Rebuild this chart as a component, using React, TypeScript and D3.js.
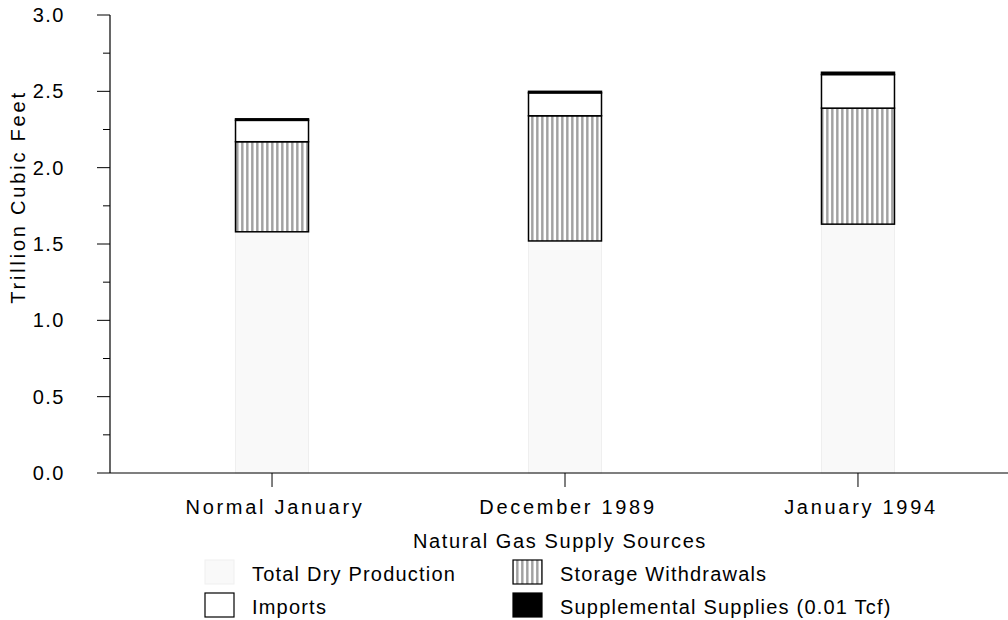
import React from "react";
import * as d3 from "d3";

const categories = ["Normal January", "December 1989", "January 1994"];
const production = [1.58, 1.52, 1.63];
const storage = [0.59, 0.82, 0.76];
const imports = [0.14, 0.15, 0.22];
const supplemental = [0.01, 0.01, 0.015];
const yMajorTicks = [0, 0.5, 1.0, 1.5, 2.0, 2.5, 3.0];
const yMinorTicks = [0.25, 0.75, 1.25, 1.75, 2.25, 2.75];
const seriesNames = ["Total Dry Production", "Storage Withdrawals", "Imports", "Supplemental Supplies (0.01 Tcf)"];

const W = 1008;
const H = 620;
const FONT = "'Liberation Sans', Arial, sans-serif";

export default function App() {
  const y = d3.scaleLinear().domain([0, 3]).range([473, 15]);
  const x = d3.scalePoint<string>().domain(categories).range([110, 1020]).padding(0.553);
  const barW = 73;

  const stack = d3.stack<number>().keys(["p", "s", "i", "u"]).value((i, k) => {
    if (k === "p") return production[i];
    if (k === "s") return storage[i];
    if (k === "i") return imports[i];
    return supplemental[i];
  });
  const series = stack(categories.map((_, i) => i));

  const fills = ["#f9f9f9", "url(#vhatch)", "#ffffff", "#000000"];
  const strokes = ["#efefef", "#000", "#000", "#000"];

  const base: React.CSSProperties = { fontFamily: FONT, fontSize: 20, fill: "#000" };
  const tickStyle = { ...base, letterSpacing: 1.5 };
  const axisStyle = { ...base, letterSpacing: 2.7 };
  const titleStyle = { ...base, letterSpacing: 2.8 };
  const legTitleStyle = { ...base, letterSpacing: 1.6 };
  const legStyle = { ...base, letterSpacing: 1.2 };

  const legendItems = [
    { x: 205, y: 560, idx: 0 },
    { x: 513, y: 560, idx: 1 },
    { x: 205, y: 593, idx: 2 },
    { x: 513, y: 593, idx: 3 },
  ];

  return (
    <svg width={W} height={H} style={{ position: "absolute", left: 0, top: 0, background: "#fff" }}>
      <defs>
        <pattern id="vhatch" patternUnits="userSpaceOnUse" width={5} height={10}>
          <rect width={5} height={10} fill="#fff" />
          <line x1={2} y1={0} x2={2} y2={10} stroke="#555" strokeWidth={1} />
          <line x1={3} y1={0} x2={3} y2={10} stroke="#999" strokeWidth={1} />
        </pattern>
      </defs>

      {series.map((s, si) => (
        <g key={si}>
          {s.map((d, i) => {
            const cx = x(categories[i]) as number;
            const y0 = y(d[0]);
            const y1 = y(d[1]);
            return (
              <rect
                key={i}
                x={cx - barW / 2}
                y={y1}
                width={barW}
                height={Math.max(0, y0 - y1)}
                fill={fills[si]}
                stroke={strokes[si]}
                strokeWidth={si === 0 ? 1 : 1.5}
              />
            );
          })}
        </g>
      ))}

      <line x1={110} y1={y(3)} x2={110} y2={y(0)} stroke="#000" strokeWidth={1.2} />
      {yMajorTicks.map((t) => (
        <g key={"M" + t}>
          <line x1={97} x2={110} y1={y(t)} y2={y(t)} stroke="#000" strokeWidth={1} />
          <text x={65} y={y(t)} dy="0.35em" textAnchor="end" style={tickStyle}>
            {t.toFixed(1)}
          </text>
        </g>
      ))}
      {yMinorTicks.map((t) => (
        <line key={"m" + t} x1={103} x2={110} y1={y(t)} y2={y(t)} stroke="#000" strokeWidth={1} />
      ))}
      <text transform={`translate(25,197) rotate(-90)`} textAnchor="middle" style={titleStyle}>
        Trillion Cubic Feet
      </text>

      <line x1={110} y1={473} x2={W} y2={473} stroke="#000" strokeWidth={1.2} />
      {categories.map((c) => (
        <g key={c}>
          <line x1={x(c)} x2={x(c)} y1={473} y2={487} stroke="#000" strokeWidth={1} />
          <text x={(x(c) as number) + 3} y={514} textAnchor="middle" style={axisStyle}>
            {c}
          </text>
        </g>
      ))}

      <text x={560} y={548} textAnchor="middle" style={legTitleStyle}>
        Natural Gas Supply Sources
      </text>
      {legendItems.map((it) => (
        <g key={it.idx}>
          <rect
            x={it.x}
            y={it.y}
            width={29}
            height={24}
            fill={fills[it.idx]}
            stroke={strokes[it.idx]}
            strokeWidth={it.idx === 0 ? 1 : 1.2}
          />
          <text x={it.x + 47} y={it.y + 21} style={legStyle}>
            {seriesNames[it.idx]}
          </text>
        </g>
      ))}
    </svg>
  );
}
